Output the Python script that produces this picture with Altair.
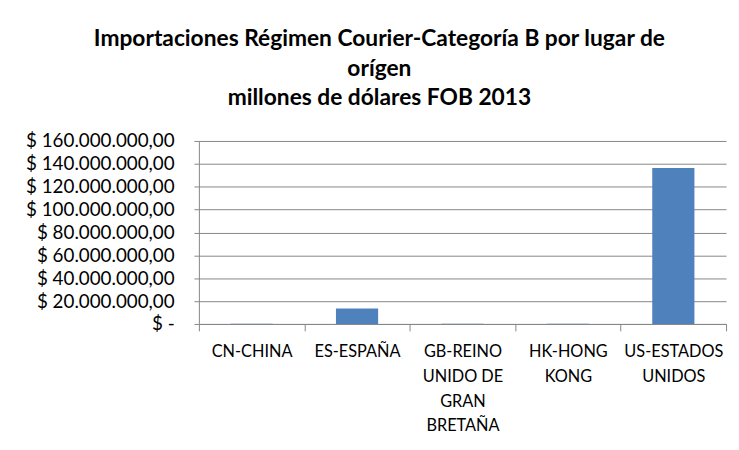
import json
import altair as alt
import pandas as pd

categories = ["CN-CHINA", "ES-ESPAÑA", "GB-REINO UNIDO DE GRAN BRETAÑA", "HK-HONG KONG", "US-ESTADOS UNIDOS"]
label_lines = [["CN-CHINA"], ["ES-ESPAÑA"], ["GB-REINO", "UNIDO DE", "GRAN", "BRETAÑA"], ["HK-HONG", "KONG"], ["US-ESTADOS", "UNIDOS"]]
values = [150000, 13600000, 120000, 90000, 136400000]
y_ticks = [0, 20e6, 40e6, 60e6, 80e6, 100e6, 120e6, 140e6, 160e6]

df = pd.DataFrame({"pais": categories, "valor": values})
label_map = json.dumps(dict(zip(categories, label_lines)), ensure_ascii=False)

FONT = "Lato"
GRAY = "#878787"

chart = alt.Chart(df).mark_bar(color="#4F81BD", width=alt.RelativeBandSize(0.4)).encode(
    x=alt.X("pais:N", sort=categories, title=None,
            scale=alt.Scale(paddingInner=0, paddingOuter=0),
            axis=alt.Axis(labelAngle=0, ticks=True, tickBand="extent", tickSize=7, tickColor=GRAY,
                          tickOpacity=1, domainColor=GRAY, labelPadding=13, labelFontSize=16.5,
                          labelLineHeight=25, labelBaseline="top",
                          labelExpr=f"{label_map}[datum.label]", labelColor="#000000")),
    y=alt.Y("valor:Q", title=None,
            scale=alt.Scale(domain=[0, 160e6], nice=False),
            axis=alt.Axis(values=y_ticks, tickSize=5, tickColor=GRAY, domainColor=GRAY,
                          gridColor=GRAY, labelPadding=20, labelFontSize=19,
                          labelColor="#000000",
                          labelExpr="datum.value == 0 ? '$ -' : '$ ' + format(datum.value / 1000000, 'd') + '.000.000,00'")),
).properties(
    width=533, height=185,
    title=alt.TitleParams(
        ["Importaciones Régimen Courier-Categoría B por lugar de", "orígen", "millones de dólares FOB 2013"],
        fontSize=23, font=FONT, fontWeight="bold", color="#000000", lineHeight=30,
        anchor="middle", dx=-84, offset=22),
    autosize=alt.AutoSizeParams(type="none"),
    padding={"left": 193, "top": 132, "right": 5, "bottom": 125},
).configure(font=FONT).configure_view(stroke=None).configure_axis(gridWidth=1, domainWidth=1, tickWidth=1)

chart.save("out.html", embed_options={"renderer": "svg", "actions": False})
